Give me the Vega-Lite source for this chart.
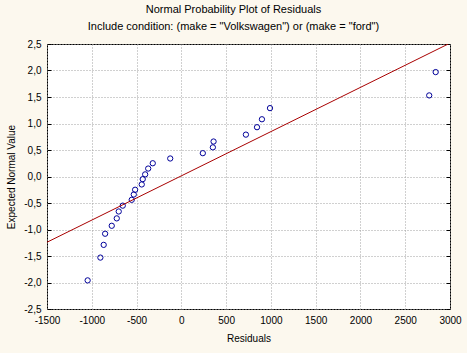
{
  "$schema": "https://vega.github.io/schema/vega-lite/v6.json",
  "width": 403,
  "height": 265,
  "autosize": {"type": "none"},
  "padding": {"left": 47, "top": 44, "right": 17, "bottom": 44},
  "background": "#FCF8EE",
  "title": {
    "text": "Normal Probability Plot of Residuals",
    "subtitle": "Include condition: (make = \"Volkswagen\") or (make = \"ford\")",
    "font": "Liberation Sans",
    "fontSize": 11,
    "fontWeight": "normal",
    "color": "#000000",
    "subtitleFont": "Liberation Sans",
    "subtitleFontSize": 11,
    "subtitleColor": "#000000",
    "subtitlePadding": 6,
    "offset": 7,
    "dx": -15
  },
  "datasets": {
    "pts": [
      {"residual": -1046, "expected": -1.96},
      {"residual": -904, "expected": -1.53},
      {"residual": -867, "expected": -1.29},
      {"residual": -851, "expected": -1.08},
      {"residual": -777, "expected": -0.93},
      {"residual": -721, "expected": -0.79},
      {"residual": -699, "expected": -0.66},
      {"residual": -654, "expected": -0.55},
      {"residual": -554, "expected": -0.44},
      {"residual": -531, "expected": -0.34},
      {"residual": -516, "expected": -0.25},
      {"residual": -442, "expected": -0.15},
      {"residual": -431, "expected": -0.05},
      {"residual": -404, "expected": 0.04},
      {"residual": -370, "expected": 0.15},
      {"residual": -319, "expected": 0.25},
      {"residual": -124, "expected": 0.34},
      {"residual": 240, "expected": 0.44},
      {"residual": 352, "expected": 0.55},
      {"residual": 360, "expected": 0.66},
      {"residual": 721, "expected": 0.79},
      {"residual": 845, "expected": 0.93},
      {"residual": 900, "expected": 1.08},
      {"residual": 990, "expected": 1.29},
      {"residual": 2768, "expected": 1.53},
      {"residual": 2840, "expected": 1.97}
    ],
    "fit": [
      {"residual": -1500, "expected": -1.24},
      {"residual": 2980, "expected": 2.5}
    ]
  },
  "config": {
    "view": {"stroke": "#000000", "strokeWidth": 1, "fill": "#FFFFFF"},
    "axis": {
      "domain": false,
      "labelFont": "Liberation Sans",
      "labelFontSize": 10,
      "labelColor": "#000000",
      "labelFlush": false,
      "labelOverlap": false,
      "titleFont": "Liberation Sans",
      "titleFontSize": 10,
      "titleFontWeight": "normal",
      "titleColor": "#000000",
      "gridColor": "#A0A0A0",
      "gridDash": [1, 2],
      "gridWidth": 1,
      "tickColor": "#000000"
    }
  },
  "resolve": {"axis": {"y": "independent"}},
  "layer": [
    {
      "data": {"name": "pts"},
      "mark": {"type": "point", "filled": false, "color": "#000099", "size": 28, "strokeWidth": 1, "opacity": 1},
      "encoding": {
        "x": {
          "field": "residual", "type": "quantitative",
          "scale": {"domain": [-1500, 3000], "nice": false, "zero": false},
          "axis": {
            "title": "Residuals",
            "values": [-1500, -1000, -500, 0, 500, 1000, 1500, 2000, 2500, 3000],
            "labelExpr": "(datum.value < 0 ? '-' : '') + abs(datum.value)",
            "ticks": false,
            "labelPadding": 6,
            "titlePadding": 8,
            "grid": true
          }
        },
        "y": {
          "field": "expected", "type": "quantitative",
          "scale": {"domain": [-2.5, 2.5], "nice": false, "zero": false},
          "axis": {
            "title": "Expected Normal Value",
            "orient": "left",
            "values": [-2.5, -2, -1.5, -1, -0.5, 0, 0.5, 1, 1.5, 2, 2.5],
            "labelExpr": "(datum.value < 0 ? '-' : '') + replace(format(abs(datum.value), '.1f'), '.', ',')",
            "tickSize": -4,
            "labelPadding": 10,
            "titlePadding": 7,
            "grid": true
          }
        }
      }
    },
    {
      "data": {"name": "fit"},
      "mark": {"type": "line", "color": "#A80000", "strokeWidth": 1, "clip": true},
      "encoding": {
        "x": {"field": "residual", "type": "quantitative"},
        "y": {
          "field": "expected", "type": "quantitative",
          "axis": {
            "orient": "right",
            "title": null,
            "labels": false,
            "grid": false,
            "values": [-2.5, -2, -1.5, -1, -0.5, 0, 0.5, 1, 1.5, 2, 2.5],
            "tickSize": -4
          }
        }
      }
    }
  ]
}
